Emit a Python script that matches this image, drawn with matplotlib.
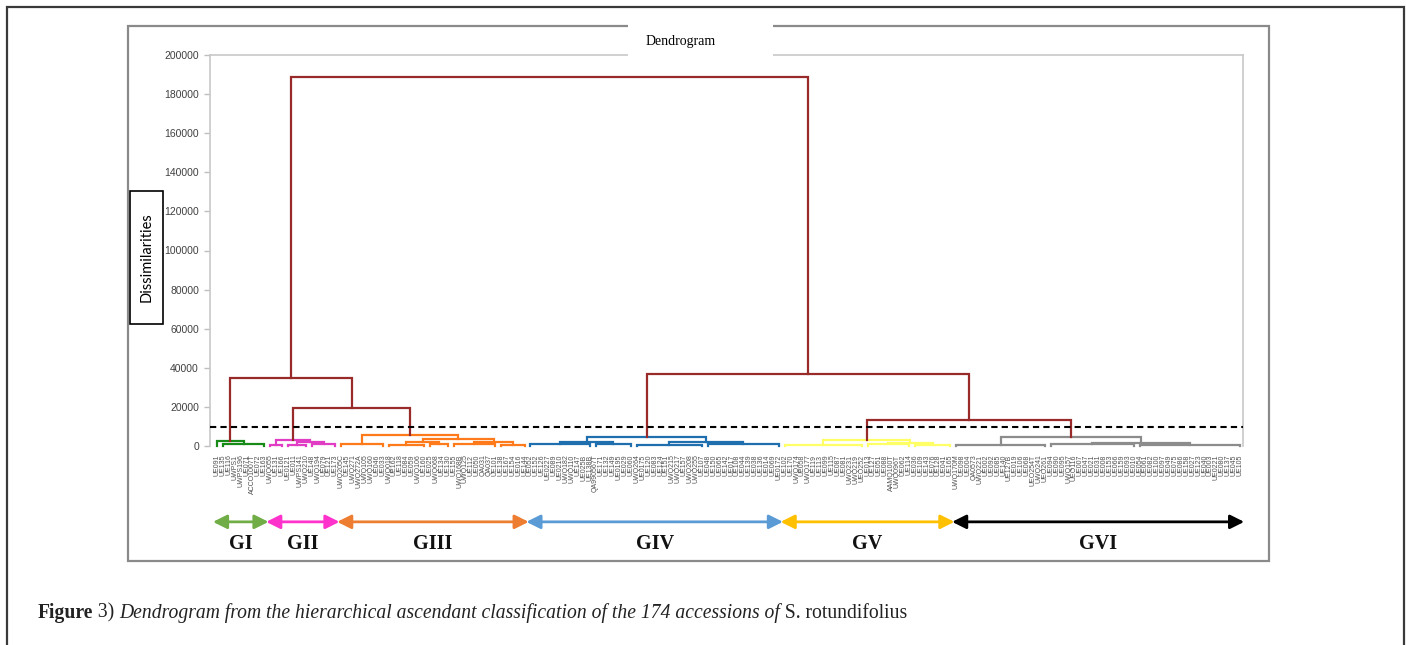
import matplotlib
matplotlib.use('Agg')
import matplotlib.pyplot as plt
from matplotlib.patches import Rectangle

# --- data ---
group_names = ['GI', 'GII', 'GIII', 'GIV', 'GV', 'GVI']

labels_gi = ['UE091', 'UE135', 'UE116', 'UWPS1', 'UWPS196', 'UE071', 'ACCO1007T', 'UE072', 'UE163']
labels_gii = ['UWQ055', 'UE131', 'UE166', 'UE0121', 'UE011', 'UWPS141', 'UWQ210', 'UE148',
              'UWQ194', 'UE079', 'UE121', 'UE173']
labels_giii = ['UWQ205C', 'UE145', 'UWQ271', 'UWQ272A', 'UWQ105', 'UWQ160', 'UE046', 'UE033',
               'UWQ018', 'UE162', 'UE118', 'UE084', 'UE059', 'UWQ106', 'UE160', 'UE025',
               'UWQ068', 'UE134', 'UE130', 'UE155', 'UWQ168B', 'UWQ125', 'UE112', 'UE050',
               'QA031', 'QA037', 'UE101', 'UE138', 'UE167', 'UE154', 'UE016', 'UE144']
labels_giv = ['UE052', 'UE152', 'UE126', 'UE0227', 'UE089', 'UE0210', 'UWQ182', 'UWQ110',
              'UE147', 'UE025B', 'UE138B', 'QA990567T', 'UE171', 'UE132', 'UE149', 'UE0195',
              'UE029', 'UE060', 'UWQ264', 'UE0175', 'UE120', 'UE083', 'UE124', 'UE151',
              'UWQ215', 'UWQ217', 'UE157', 'UWQ208', 'UWQ255', 'UE107', 'UE048', 'UE150',
              'UE065', 'UE142', 'UE017', 'UE108', 'UE044', 'UE139', 'UE038', 'UE136',
              'UE014', 'UE069', 'UE0172']
labels_gv = ['UE102', 'UE170', 'UWQ174', 'UE058', 'UWQ177', 'UE119', 'UE113', 'UE099',
             'UE115', 'UE087', 'UE081', 'UWQ231', 'UWQ219', 'UEO252', 'UE013', 'UE127',
             'UE051', 'UE088', 'AAMQ100T', 'UWQ096T', 'UE062', 'UE114', 'UE036', 'UE109',
             'UE143', 'UE076', 'UE128', 'UE041', 'UE165']
labels_gvi = ['UWQ170M', 'UE098', 'UE004', 'QA0573', 'UWQ221', 'UE002', 'UE092', 'UE085',
              'UE140', 'UE127B', 'UE019', 'UE106', 'UE068', 'UEO254T', 'UWQ241', 'UEO261',
              'UE094', 'UE090', 'UE095', 'UWQ157', 'UEO116', 'UE007', 'UE047', 'UE021',
              'UE031', 'UE008', 'UE153', 'UE066', 'UE159', 'UE093', 'UE010', 'UE054',
              'UE061', 'UE082', 'UE100', 'UE097', 'UE049', 'UE075', 'UE086', 'UE158',
              'UE027', 'UE123', 'UE040', 'UE003', 'UE0221', 'UE080', 'UE137', 'UE045', 'UE105']
leaf_labels = labels_gi + labels_gii + labels_giii + labels_giv + labels_gv + labels_gvi

# within-group trees: (height, left, right) merges, (height, n) = tight bundle of n leaves
tree_gi = (2500, (0, 1), (900, 8))
tree_gii = (3000, (700, 3), (2000, (600, 4), (900, 5)))
tree_giii = (5600, (800, 8), (3600, (2000, (700, 7), (900, 4)), (2000, (800, 8), (600, 5))))
tree_giv = (4600, (2000, (800, 11), (1000, 7)), (2000, (700, 12), (900, 13)))
tree_gv = (3000, (600, 14), (1500, (800, 8), (500, 7)))
tree_gvi = (4600, (500, 16), (1500, (900, 15), (600, 18)))
group_trees = dict(zip(group_names, [tree_gi, tree_gii, tree_giii, tree_giv, tree_gv, tree_gvi]))

# merges between groups
top_tree = (189000, (35000, 'GI', (19500, 'GII', 'GIII')), (37000, 'GIV', (13300, 'GV', 'GVI')))
cut_level = 9700

# --- styles ---
link_colors = dict(zip(group_names, ['#178a17', '#e03cc4', '#ff7a1a', '#1f6fae', '#ffff66', '#8c8c8c']))
arrow_colors = dict(zip(group_names, ['#70ad47', '#ff33cc', '#ed7d31', '#5b9bd5', '#ffc000', '#000000']))
top_color = '#992a2a'
LW = 1.6

W, H = 1406, 645
fig = plt.figure(figsize=(W / 100, H / 100), dpi=100)


def fx(px):
    return px / W


def fy(py):
    return 1 - py / H


ax = fig.add_axes([fx(210), fy(446), fx(1243) - fx(210), fy(55) - fy(446)])

counter = [0]
group_span = {}


def ulink(x1, h1, x2, h2, h, color):
    ax.plot([x1, x1, x2, x2], [h1, h, h, h2], color=color, lw=LW,
            solid_joinstyle='miter', clip_on=False, zorder=3)


def draw(node, color):
    if isinstance(node, str):
        start = counter[0]
        res = draw(group_trees[node], link_colors[node])
        group_span[node] = (start, counter[0] - 1)
        return res
    if len(node) == 2:
        h, n = node
        a = counter[0]
        b = a + n - 1
        counter[0] += n
        if n > 1:
            ulink(a, 0, b, 0, h, color)
        return (a + b) / 2, h
    h, left, right = node
    xl, hl = draw(left, color)
    xr, hr = draw(right, color)
    ulink(xl, hl, xr, hr, h, color)
    return (xl + xr) / 2, h


draw(top_tree, top_color)
n_leaves = counter[0]

ax.axhline(cut_level, color='black', lw=1.5, ls=(0, (3, 2)), zorder=4)

ax.set_xlim(-1.2, n_leaves - 1 + 0.5)
ax.set_ylim(0, 200000)
ax.set_yticks(range(0, 200001, 20000))
ax.set_yticklabels([str(v) for v in range(0, 200001, 20000)], fontsize=7.5,
                   color='#404040', family='Liberation Sans')
ax.tick_params(axis='y', length=4, color='#bfbfbf', width=1, pad=4)
ax.set_xticks([])
for s in ['left', 'top', 'right', 'bottom']:
    ax.spines[s].set_color('#c8c8c8')
    ax.spines[s].set_linewidth(1.2)
ax.spines['bottom'].set_visible(False)

# leaf labels (dense, as in the original)
xt = ax.get_xaxis_transform()
for i, lab in enumerate(leaf_labels):
    ax.text(i, -0.022, lab, transform=xt, rotation=90, ha='center', va='top',
            fontsize=5.0, color='#505050', family='Liberation Sans', clip_on=False)

# group arrows and names
for g in group_names:
    a, b = group_span[g]
    ax.annotate('', xy=(b + 0.7, -0.194), xytext=(a - 0.7, -0.194),
                xycoords=xt, textcoords=xt,
                arrowprops=dict(arrowstyle='<|-|>,head_length=0.7,head_width=0.35',
                                color=arrow_colors[g], lw=2, shrinkA=0, shrinkB=0,
                                mutation_scale=12))
    ax.text((a + b) / 2, -0.25, g, transform=xt, ha='center', va='center',
            fontsize=14.5, fontweight='bold', family='Liberation Serif', color='#111111')

# frames
fig.add_artist(Rectangle((fx(7), fy(660)), fx(1404) - fx(7), fy(7) - fy(660),
                         transform=fig.transFigure, fill=False, ec='#3a3a3a', lw=1.6))
fig.add_artist(Rectangle((fx(128), fy(561)), fx(1269) - fx(128), fy(26) - fy(561),
                         transform=fig.transFigure, fill=False, ec='#8a8a8a', lw=1.6))

# title
fig.add_artist(Rectangle((fx(628), fy(58)), fx(773) - fx(628), fy(24) - fy(58),
                         transform=fig.transFigure, fc='white', ec='none', zorder=5))
fig.text(fx(681), fy(41), 'Dendrogram', ha='center', va='center', fontsize=10,
         family='Liberation Serif', zorder=6)

# y label box
fig.add_artist(Rectangle((fx(130), fy(324)), fx(163) - fx(130), fy(191) - fy(324),
                         transform=fig.transFigure, fill=False, ec='black', lw=1.2))
fig.text(fx(146.5), fy(257.5), 'Dissimilarities', rotation=90, ha='center', va='center',
         fontsize=10.5, family='Lato')

# caption
renderer = fig.canvas.get_renderer()
parts = [('Figure', 'normal', 'bold'), (' 3) ', 'normal', 'normal'),
         ('Dendrogram from the hierarchical ascendant classification of the 174 accessions of',
          'italic', 'normal'),
         (' S. rotundifolius', 'normal', 'normal')]
x = 38
for txt, style, weight in parts:
    t = fig.text(fx(x), fy(613), txt, ha='left', va='center', fontsize=14.1,
                 family='Liberation Serif', style=style, fontweight=weight, color='#222222')
    x += t.get_window_extent(renderer).width

fig.savefig('out.png', dpi=100)
